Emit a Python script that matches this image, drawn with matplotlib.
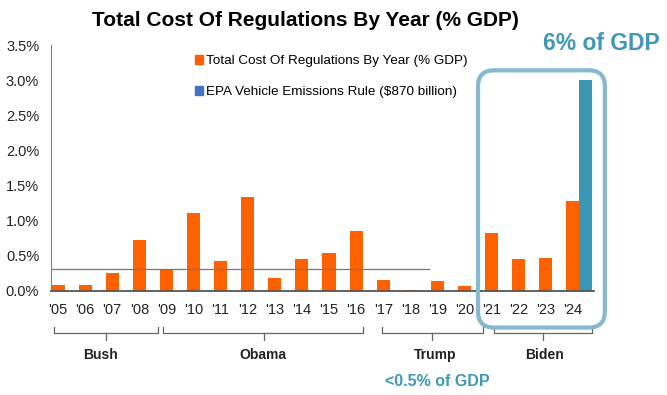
import matplotlib
matplotlib.use("Agg")
import matplotlib.pyplot as plt
from matplotlib.patches import Patch, FancyBboxPatch
from matplotlib.transforms import blended_transform_factory, IdentityTransform

# datos del grafico
years = ["'05", "'06", "'07", "'08", "'09", "'10", "'11", "'12", "'13", "'14",
         "'15", "'16", "'17", "'18", "'19", "'20", "'21", "'22", "'23", "'24"]
cost_pct = [0.08, 0.08, 0.25, 0.72, 0.32, 1.11, 0.42, 1.335, 0.18, 0.45,
            0.545, 0.85, 0.16, 0.012, 0.14, 0.07, 0.82, 0.45, 0.47, 1.28]
epa_pct = 3.0
avg_line = 0.32
presidents = ["Bush", "Obama", "Trump", "Biden"]

plt.rcParams['font.family'] = ['Liberation Sans', 'DejaVu Sans']

orange = "#ff6000"
teal = "#3a96b4"
box_col = "#86b9cf"
txt_teal = "#3f98b8"

fig = plt.figure(figsize=(6.67, 3.95), dpi=100)
ax = fig.add_axes([51 / 667, 1 - 291 / 395, (594 - 51) / 667, 246 / 395])

x = list(range(len(years)))
w = 0.48
ax.bar(x, cost_pct, width=w, color=orange)
ax.bar(x[-1] + w, epa_pct, width=w, color=teal)

ax.set_xlim(-0.26, 19.78)
ax.set_ylim(0, 3.5)
ax.set_yticks([0, 0.5, 1.0, 1.5, 2.0, 2.5, 3.0, 3.5])
ax.set_yticklabels([f"{v:.1f}%" for v in ax.get_yticks()], fontsize=10.5, color="#222222")
ax.set_xticks(x)
ax.set_xticklabels(years, fontsize=10.5, color="#222222")
ax.tick_params(length=0, pad=9)
ax.tick_params(axis='y', pad=8.5)
for s in ["top", "right"]:
    ax.spines[s].set_visible(False)
ax.spines["left"].set_color("#808080")
ax.spines["bottom"].set_color("#555555")
ax.spines["bottom"].set_linewidth(1.3)

# linea de promedio
ax.plot([-0.26, 13.7], [avg_line, avg_line], color="#777777", lw=0.9)

# llaves de cada presidente
tr = blended_transform_factory(ax.transData, ax.transAxes)
spans = [(-0.15, 3.69), (3.87, 11.25), (11.96, 15.68), (16.09, 19.7)]
mids = [1.77, 7.6, 13.8, 17.9]
lab_x = [1.55, 7.56, 13.9, 17.97]
for (a, b), m, lx, name in zip(spans, mids, lab_x, presidents):
    ax.plot([a, a, b, b], [-0.146, -0.171, -0.171, -0.146], color="#666666",
            lw=0.9, transform=tr, clip_on=False)
    ax.plot([m, m], [-0.171, -0.199], color="#666666", lw=0.9, transform=tr, clip_on=False)
    ax.text(lx, -0.26, name, transform=tr, ha="center", va="center",
            fontsize=10, fontweight="bold", color="#222222")

# recuadro de Biden
p0 = ax.transData.transform((15.5, -0.52))
p1 = ax.transData.transform((20.18, 3.14))
box = FancyBboxPatch((p0[0], p0[1]), p1[0] - p0[0], p1[1] - p0[1],
                     boxstyle="round,pad=0,rounding_size=16", transform=IdentityTransform(),
                     fill=False, ec=box_col, lw=3, clip_on=False)
fig.patches.append(box)

fig.text(305 / 667, 1 - 20 / 395, "Total Cost Of Regulations By Year (% GDP)",
         ha="center", va="center", fontsize=15, fontweight="bold")
fig.text(601 / 667, 1 - 44 / 395, "6% of GDP", ha="center", va="center",
         fontsize=16.5, fontweight="bold", color=txt_teal)
fig.text(437 / 667, 1 - 381 / 395, "<0.5% of GDP", ha="center", va="center",
         fontsize=11.5, fontweight="bold", color=txt_teal)

handles = [Patch(color=orange), Patch(color="#4472c4")]
labels = ["Total Cost Of Regulations By Year (% GDP)", "EPA Vehicle Emissions Rule ($870 billion)"]
fig.legend(handles, labels, loc="upper left", bbox_to_anchor=(190 / 667, 1 - 50 / 395),
           frameon=False, fontsize=9.7, handlelength=0.6, handleheight=0.6,
           handletextpad=0.2, labelspacing=1.4, borderaxespad=0)

fig.savefig("out.png", dpi=100)
